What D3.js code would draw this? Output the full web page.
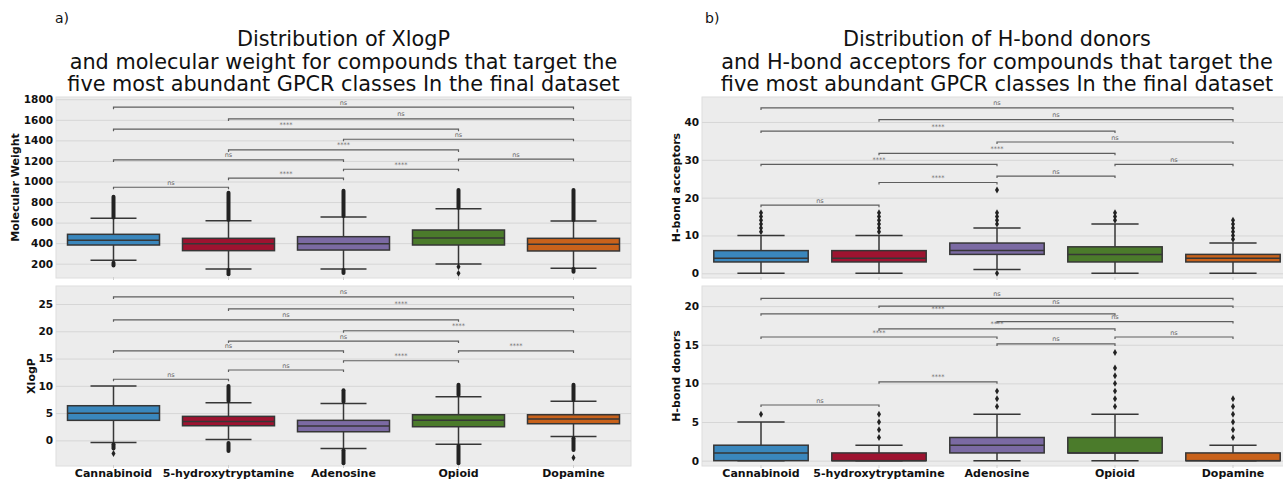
<!DOCTYPE html>
<html>
<head>
<meta charset="utf-8">
<script src="https://cdn.jsdelivr.net/npm/d3@7"></script>
<style>
  body { margin: 0; background: #fff; }
  text { font-family: "DejaVu Sans", sans-serif; }
</style>
</head>
<body>
<div id="chart"></div>
<script>
const categories = ["Cannabinoid", "5-hydroxytryptamine", "Adenosine", "Opioid", "Dopamine"];
const colors = ["#3a87bd", "#9e1330", "#7b6aa3", "#4b7b2b", "#c9621b"];

// box stats: [lower whisker, q1, median, q3, upper whisker]
const mwStats = [[233, 382, 428, 486, 642], [148, 327, 395, 447, 619], [148, 333, 395, 463, 655], [197, 382, 450, 528, 735], [155, 324, 389, 447, 616]];
const mwFlierSpans = [[[650, 852], [182, 210]], [[628, 891], [97, 140]], [[665, 911], [109, 140]], [[745, 918]], [[625, 918], [122, 148]]];
const mwFlierDots = [[], [], [], [171, 106], []];
const mwBrackets = [[0, 1, 944, "ns"], [1, 2, 1032, "****"], [2, 3, 1119, "****"], [3, 4, 1217, "ns"], [0, 2, 1210, "ns"],
  [1, 3, 1307, "****"], [2, 4, 1411, "ns"], [0, 3, 1509, "****"], [1, 4, 1609, "ns"], [0, 4, 1723, "ns"]];
const mwTicks = [200, 400, 600, 800, 1000, 1200, 1400, 1600, 1800];

const xlogpStats = [[-0.37, 3.67, 4.95, 6.35, 9.96], [0.18, 2.68, 3.48, 4.4, 6.9], [-1.47, 1.58, 2.62, 3.67, 6.78], [-0.73, 2.5, 3.67, 4.7, 8.0], [0.73, 3.05, 3.9, 4.7, 7.15]];
const xlogpFlierSpans = [[[-0.7, -1.5]], [[7.2, 9.96], [-0.5, -1.96]], [[7.1, 9.2], [-1.8, -4.2]], [[8.3, 10.2], [-1.0, -4.2]], [[7.4, 10.2], [0.4, -1.78]]];
const xlogpFlierDots = [[-2.4], [], [], [], [-3.2]];
const xlogpBrackets = [[0, 1, 11.2, "ns"], [1, 2, 12.9, "ns"], [2, 3, 14.6, "****"], [3, 4, 16.4, "****"], [0, 2, 16.4, "ns"],
  [1, 3, 18.2, "ns"], [2, 4, 20.1, "****"], [0, 3, 22.1, "ns"], [1, 4, 24.1, "****"], [0, 4, 26.3, "ns"]];
const xlogpTicks = [0, 5, 10, 15, 20, 25];

const hbaStats = [[0, 3, 4, 6, 10], [0, 3, 4, 6, 10], [1, 5, 6, 8, 12], [0, 3, 5, 7, 13], [0, 3, 4, 5, 8]];
const hbaFlierDots = [[11, 12, 13, 14, 15, 16], [11, 12, 13, 14, 15, 16], [13, 14, 15, 16, 22, 0], [14, 15, 16], [9, 10, 11, 12, 13, 14]];
const hbaBrackets = [[0, 1, 18.0, "ns"], [1, 2, 24.0, "****"], [2, 3, 25.7, "ns"], [3, 4, 28.8, "ns"], [0, 2, 28.8, "****"],
  [1, 3, 31.7, "****"], [2, 4, 34.7, "ns"], [0, 3, 37.6, "****"], [1, 4, 40.6, "ns"], [0, 4, 43.7, "ns"]];
const hbaTicks = [0, 10, 20, 30, 40];

const hbdStats = [[0, 0, 1, 2, 5], [0, 0, 0, 1, 2], [0, 1, 2, 3, 6], [0, 1, 1, 3, 6], [0, 0, 0, 1, 2]];
const hbdFlierDots = [[6], [3, 4, 5, 6], [7, 8, 9], [7, 8, 9, 10, 11, 12, 14], [3, 4, 5, 6, 7, 8]];
const hbdBrackets = [[0, 1, 7.2, "ns"], [1, 2, 10.2, "****"], [2, 3, 15.1, "ns"], [3, 4, 16.0, "ns"], [0, 2, 16.0, "****"],
  [1, 3, 17.05, "****"], [2, 4, 18.0, "ns"], [0, 3, 19.0, "****"], [1, 4, 20.0, "ns"], [0, 4, 21.0, "ns"]];
const hbdTicks = [0, 5, 10, 15, 20];

const W = 1283, H = 479;
const svg = d3.select("#chart").append("svg")
  .attr("width", W).attr("height", H)
  .style("display", "block");

function drawPanel(p) {
  const x = d3.scaleBand().domain(categories).range([p.x0, p.x1]).padding(0);
  const y = d3.scaleLinear().domain(p.domain).range([p.y1, p.y0]);
  const g = svg.append("g");
  const bw = x.bandwidth() * 0.8;

  g.append("rect")
    .attr("x", p.x0).attr("y", p.y0)
    .attr("width", p.x1 - p.x0).attr("height", p.y1 - p.y0)
    .attr("fill", "#ececec").attr("stroke", "#dedede").attr("stroke-width", 1);

  // grid + y axis
  const yAxis = g.append("g")
    .attr("transform", `translate(${p.x0},0)`)
    .call(d3.axisLeft(y).tickValues(p.ticks).tickFormat(d3.format("d"))
      .tickSize(-(p.x1 - p.x0)).tickPadding(3));
  yAxis.select(".domain").remove();
  yAxis.selectAll(".tick line").attr("stroke", "#d6d6d6").attr("stroke-width", 1);
  yAxis.selectAll(".tick text")
    .attr("font-size", "10.5px").attr("font-weight", "bold")
    .attr("fill", "#111").style("font-family", "DejaVu Sans");

  // small x tick marks
  g.selectAll(".xt").data(categories).enter().append("line")
    .attr("x1", d => x(d) + x.bandwidth() / 2).attr("x2", d => x(d) + x.bandwidth() / 2)
    .attr("y1", p.y1 - 1).attr("y2", p.y1 + 2)
    .attr("stroke", "#cfcfcf");

  if (p.xlabels) {
    g.selectAll(".xl").data(categories).enter().append("text")
      .attr("x", d => x(d) + x.bandwidth() / 2)
      .attr("y", p.y1 + 11)
      .attr("text-anchor", "middle")
      .attr("font-size", "11px").attr("font-weight", "bold").attr("fill", "#111")
      .text(d => d);
  }

  g.append("text")
    .attr("transform", `translate(${p.labelX},${(p.y0 + p.y1) / 2}) rotate(-90)`)
    .attr("text-anchor", "middle")
    .attr("font-size", "11px").attr("font-weight", "bold").attr("fill", "#111")
    .text(p.label);

  const line = "#363636";
  categories.forEach((c, i) => {
    const s = p.stats[i];
    const cx = x(c) + x.bandwidth() / 2;
    const bg = g.append("g");
    // whiskers
    bg.append("line").attr("x1", cx).attr("x2", cx).attr("y1", y(s[3])).attr("y2", y(s[4]))
      .attr("stroke", line).attr("stroke-width", 1.5);
    bg.append("line").attr("x1", cx).attr("x2", cx).attr("y1", y(s[1])).attr("y2", y(s[0]))
      .attr("stroke", line).attr("stroke-width", 1.5);
    [s[0], s[4]].forEach(v => {
      bg.append("line").attr("x1", cx - bw / 4).attr("x2", cx + bw / 4).attr("y1", y(v)).attr("y2", y(v))
        .attr("stroke", line).attr("stroke-width", 1.5);
    });
    // flier spans (dense stacks of points)
    (p.spans ? p.spans[i] : []).forEach(sp => {
      bg.append("line").attr("x1", cx).attr("x2", cx).attr("y1", y(sp[0])).attr("y2", y(sp[1]))
        .attr("stroke", "#222").attr("stroke-width", 4).attr("stroke-linecap", "round");
    });
    (p.dots ? p.dots[i] : []).forEach(v => {
      bg.append("path").attr("d", d3.symbol(d3.symbolDiamond, 14)())
        .attr("transform", `translate(${cx},${y(v)})`)
        .attr("fill", "#222");
    });
    // box
    bg.append("rect")
      .attr("x", cx - bw / 2).attr("y", y(s[3]))
      .attr("width", bw).attr("height", Math.max(0, y(s[1]) - y(s[3])))
      .attr("fill", colors[i]).attr("stroke", line).attr("stroke-width", 1.5);
    bg.append("line").attr("x1", cx - bw / 2).attr("x2", cx + bw / 2).attr("y1", y(s[2])).attr("y2", y(s[2]))
      .attr("stroke", line).attr("stroke-width", 1.5);
  });

  // significance brackets
  p.brackets.forEach(b => {
    const xa = x(categories[b[0]]) + x.bandwidth() / 2;
    const xb = x(categories[b[1]]) + x.bandwidth() / 2;
    const yy = y(b[2]);
    g.append("path")
      .attr("d", `M${xa},${yy + 2}V${yy}H${xb}V${yy + 2}`)
      .attr("fill", "none").attr("stroke", "#5e5e5e").attr("stroke-width", 1.2);
    g.append("text")
      .attr("x", (xa + xb) / 2).attr("y", yy - 2.5)
      .attr("text-anchor", "middle")
      .attr("font-size", "6.5px").attr("fill", "#666")
      .text(b[3]);
  });
}

const L = {x0: 56, x1: 631}, R = {x0: 702, x1: 1292};
const topArea = {y0: 97, y1: 278}, botArea = {y0: 286, y1: 466};

drawPanel({...L, ...topArea, domain: [61, 1822], ticks: mwTicks, stats: mwStats, spans: mwFlierSpans, dots: mwFlierDots,
  brackets: mwBrackets, label: "Molecular Weight", labelX: 19, xlabels: false});
drawPanel({...L, ...botArea, domain: [-4.7, 28.3], ticks: xlogpTicks, stats: xlogpStats, spans: xlogpFlierSpans, dots: xlogpFlierDots,
  brackets: xlogpBrackets, label: "XlogP", labelX: 35, xlabels: true});
drawPanel({...R, ...topArea, domain: [-1.24, 46.6], ticks: hbaTicks, stats: hbaStats, dots: hbaFlierDots,
  brackets: hbaBrackets, label: "H-bond acceptors", labelX: 680, xlabels: false});
drawPanel({...R, ...botArea, domain: [-0.69, 22.6], ticks: hbdTicks, stats: hbdStats, dots: hbdFlierDots,
  brackets: hbdBrackets, label: "H-bond donors", labelX: 680, xlabels: true});

// titles
const titles = [
  {cx: (L.x0 + L.x1) / 2, tag: "a)", tagX: 55, lines: ["Distribution of XlogP", "and molecular weight for compounds that target the", "five most abundant GPCR classes In the final dataset"]},
  {cx: (R.x0 + R.x1) / 2, tag: "b)", tagX: 705, lines: ["Distribution of H-bond donors", "and H-bond acceptors for compounds that target the", "five most abundant GPCR classes In the final dataset"]}
];
titles.forEach(t => {
  svg.append("text").attr("x", t.tagX).attr("y", 23)
    .attr("font-size", "14px").attr("fill", "#111").text(t.tag);
  t.lines.forEach((ln, i) => {
    svg.append("text").attr("x", t.cx).attr("y", 46 + i * 22.5)
      .attr("text-anchor", "middle")
      .attr("font-size", "20.8px").attr("fill", "#111")
      .text(ln);
  });
});
</script>
</body>
</html>
